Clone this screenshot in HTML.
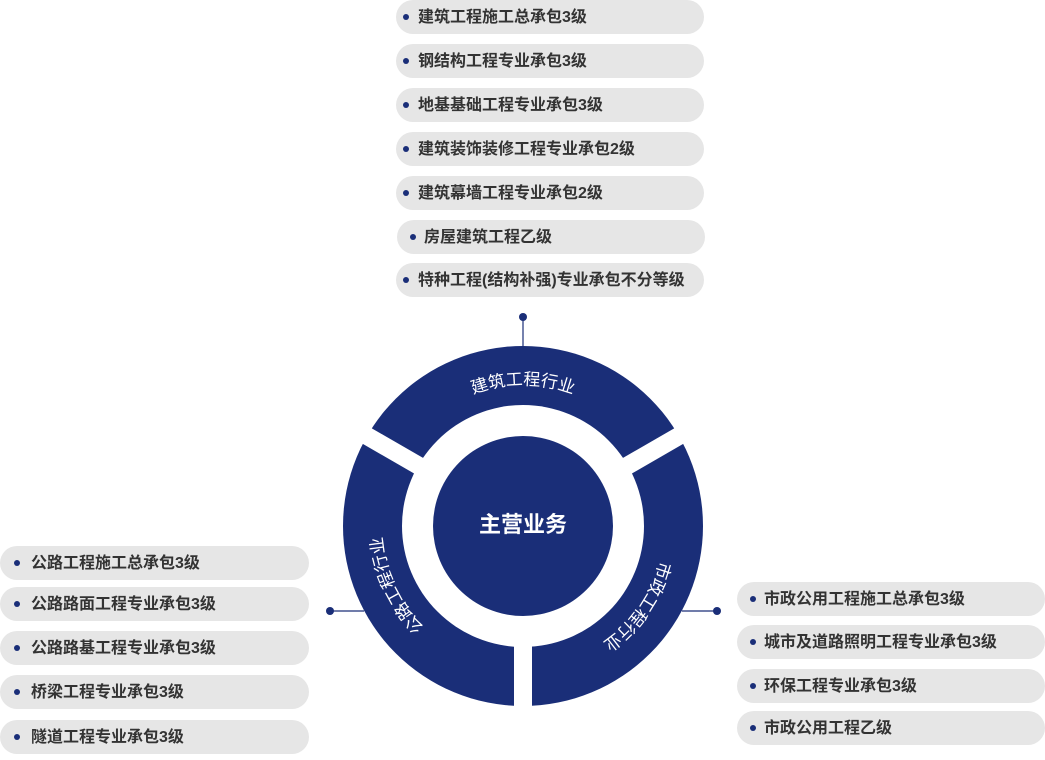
<!DOCTYPE html>
<html><head><meta charset="utf-8"><style>
body{margin:0;width:1045px;height:760px;background:#fff;position:relative;overflow:hidden;font-family:"Liberation Sans","Noto Sans CJK SC",sans-serif}
.p{position:absolute;height:34px;border-radius:17px;background:#e6e6e6;color:#333;font-size:16px;font-weight:bold;line-height:35px;box-sizing:border-box;white-space:nowrap}
.p::before{content:"";position:absolute;width:6px;height:6px;border-radius:3px;background:#1a2e78;left:var(--d);top:14px}
svg{position:absolute;left:0;top:0}
</style></head><body>
<svg width="1045" height="760">
<circle cx="523" cy="526" r="180" fill="#1a2e78"/>
<circle cx="523" cy="526" r="121" fill="#fff"/>
<g fill="#fff">
<rect x="514" y="526" width="18" height="200"/>
<rect x="514" y="326" width="18" height="200" transform="rotate(-60 523 526)"/>
<rect x="514" y="326" width="18" height="200" transform="rotate(60 523 526)"/>
</g>
<circle cx="523" cy="526" r="90" fill="#1a2e78"/>
<defs>
<path id="t" d="M415 435.4 A141 141 0 0 1 631 435.4"/>
<path id="l" d="M474.8 658.5 A141 141 0 0 1 390.5 477.8"/>
<path id="r" d="M661.9 501.5 A141 141 0 0 1 547.5 664.9"/>
</defs>
<g fill="#fff" font-size="17" font-family="Liberation Sans,Noto Sans CJK SC,sans-serif">
<text><textPath href="#t" startOffset="50%" text-anchor="middle">建筑工程行业</textPath></text>
<text><textPath href="#l" startOffset="50%" text-anchor="middle">公路工程行业</textPath></text>
<text><textPath href="#r" startOffset="50%" text-anchor="middle">市政工程行业</textPath></text>
</g>
<text x="523" y="532" fill="#fff" font-size="22" font-weight="bold" text-anchor="middle" font-family="Liberation Sans,Noto Sans CJK SC,sans-serif">主营业务</text>
<g stroke="#1a2e78" stroke-width="1.2"><line x1="523" y1="317" x2="523" y2="346"/><line x1="330" y1="611" x2="364" y2="611"/><line x1="682" y1="611" x2="717" y2="611"/></g>
<g fill="#1a2e78"><circle cx="523" cy="317" r="4"/><circle cx="330" cy="611" r="4"/><circle cx="717" cy="611" r="4"/></g>
</svg>
<div class="p" style="left:396px;top:0px;width:308px;padding-left:22px;--d:7px">建筑工程施工总承包3级</div>
<div class="p" style="left:396px;top:44px;width:308px;padding-left:22px;--d:7px">钢结构工程专业承包3级</div>
<div class="p" style="left:396px;top:88px;width:308px;padding-left:22px;--d:7px">地基基础工程专业承包3级</div>
<div class="p" style="left:396px;top:132px;width:308px;padding-left:22px;--d:7px">建筑装饰装修工程专业承包2级</div>
<div class="p" style="left:396px;top:176px;width:308px;padding-left:22px;--d:7px">建筑幕墙工程专业承包2级</div>
<div class="p" style="left:397px;top:220px;width:308px;padding-left:27px;--d:13px">房屋建筑工程乙级</div>
<div class="p" style="left:396px;top:263px;width:308px;padding-left:22px;--d:7px">特种工程(结构补强)专业承包不分等级</div>
<div class="p" style="left:0px;top:546px;width:309px;padding-left:31px;--d:14px">公路工程施工总承包3级</div>
<div class="p" style="left:0px;top:587px;width:309px;padding-left:31px;--d:14px">公路路面工程专业承包3级</div>
<div class="p" style="left:0px;top:631px;width:309px;padding-left:31px;--d:14px">公路路基工程专业承包3级</div>
<div class="p" style="left:0px;top:675px;width:309px;padding-left:31px;--d:14px">桥梁工程专业承包3级</div>
<div class="p" style="left:0px;top:720px;width:309px;padding-left:31px;--d:14px">隧道工程专业承包3级</div>
<div class="p" style="left:737px;top:582px;width:308px;padding-left:27px;--d:13px">市政公用工程施工总承包3级</div>
<div class="p" style="left:737px;top:625px;width:308px;padding-left:27px;--d:13px">城市及道路照明工程专业承包3级</div>
<div class="p" style="left:737px;top:669px;width:308px;padding-left:27px;--d:13px">环保工程专业承包3级</div>
<div class="p" style="left:737px;top:711px;width:308px;padding-left:27px;--d:13px">市政公用工程乙级</div>
</body></html>
